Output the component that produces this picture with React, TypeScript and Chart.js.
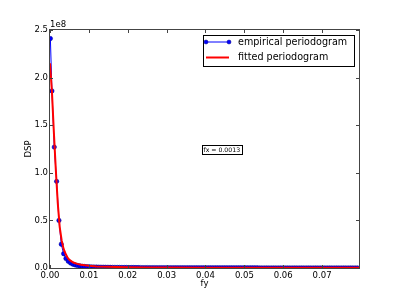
import React, { useEffect, useRef } from "react";
import { Chart, registerables } from "chart.js";

Chart.register(...registerables);

// Empirical periodogram: frequency (fy) and power spectral density (units of 1e8)
const EMP_FY = [
  0.0001, 0.0005, 0.0011, 0.0017, 0.0023, 0.0029, 0.0035, 0.0041, 0.0047, 0.0053,
  0.0059, 0.0065, 0.0071, 0.0077, 0.0083, 0.0089, 0.0095, 0.0101, 0.0107, 0.0113,
  0.0119, 0.0125, 0.0131, 0.0137, 0.0143, 0.0149, 0.0155, 0.0161, 0.0167, 0.0173,
  0.0179, 0.0185, 0.0191, 0.0197, 0.0203, 0.0209, 0.0215, 0.0221, 0.0227, 0.0233,
  0.0239, 0.0245, 0.0251, 0.0257, 0.0263, 0.0269, 0.0275, 0.0281, 0.0287, 0.0293,
  0.0299, 0.0305, 0.0311, 0.0317, 0.0323, 0.0329, 0.0335, 0.0341, 0.0347, 0.0353,
  0.0359, 0.0365, 0.0371, 0.0377, 0.0383, 0.0389, 0.0395, 0.0401, 0.0407, 0.0413,
  0.0419, 0.0425, 0.0431, 0.0437, 0.0443, 0.0449, 0.0455, 0.0461, 0.0467, 0.0473,
  0.0479, 0.0485, 0.0491, 0.0497, 0.0503, 0.0509, 0.0515, 0.0521, 0.0527, 0.0533,
  0.0539, 0.0545, 0.0551, 0.0557, 0.0563, 0.0569, 0.0575, 0.0581, 0.0587, 0.0593,
  0.0599, 0.0605, 0.0611, 0.0617, 0.0623, 0.0629, 0.0635, 0.0641, 0.0647, 0.0653,
  0.0659, 0.0665, 0.0671, 0.0677, 0.0683, 0.0689, 0.0695, 0.0701, 0.0707, 0.0713,
  0.0719, 0.0725, 0.0731, 0.0737, 0.0743, 0.0749, 0.0755, 0.0761, 0.0767, 0.0773,
  0.0779, 0.0785, 0.0791,
];

const EMPIRICAL = [
  2.41, 1.86, 1.27, 0.91, 0.5, 0.25, 0.15, 0.1, 0.07, 0.052,
  0.04, 0.032, 0.026, 0.022, 0.019, 0.016, 0.014, 0.013, 0.012, 0.011,
  0.01, 0.0095, 0.009, 0.0085, 0.008, 0.0076, 0.0072, 0.0069, 0.0066, 0.0063,
  0.006, 0.0058, 0.0056, 0.0054, 0.0052, 0.005, 0.0048, 0.0047, 0.0045, 0.0044,
  0.0043, 0.0042, 0.0041, 0.004, 0.0039, 0.0038, 0.0037, 0.0036, 0.0035, 0.0035,
  0.0034, 0.0033, 0.0033, 0.0032, 0.0031, 0.0031, 0.003, 0.003, 0.0029, 0.0029,
  0.0028, 0.0028, 0.0027, 0.0027, 0.0026, 0.0026, 0.0026, 0.0025, 0.0025, 0.0024,
  0.0024, 0.0024, 0.0023, 0.0023, 0.0023, 0.0022, 0.0022, 0.0022, 0.0021, 0.0021,
  0.0021, 0.0021, 0.002, 0.002, 0.002, 0.002, 0.0019, 0.0019, 0.0019, 0.0019,
  0.0018, 0.0018, 0.0018, 0.0018, 0.0018, 0.0017, 0.0017, 0.0017, 0.0017, 0.0017,
  0.0016, 0.0016, 0.0016, 0.0016, 0.0016, 0.0016, 0.0016, 0.0016, 0.0016, 0.0016,
  0.0016, 0.0016, 0.0015, 0.0015, 0.0015, 0.0015, 0.0015, 0.0015, 0.0015, 0.0015,
  0.0015, 0.0015, 0.0015, 0.0014, 0.0014, 0.0014, 0.0014, 0.0014, 0.0014, 0.0014,
  0.0014, 0.0014, 0.0014,
];

// Fitted periodogram (units of 1e8)
const FIT_FY = [
  0, 0.0005, 0.001, 0.0015, 0.002, 0.0025, 0.003, 0.0035, 0.004, 0.0045, 0.005,
  0.006, 0.007, 0.008, 0.009, 0.01, 0.012, 0.015, 0.02, 0.025, 0.03, 0.04, 0.05,
  0.06, 0.07, 0.0795,
];
const FITTED = [
  2.15, 1.85, 1.42, 1.03, 0.68, 0.43, 0.29, 0.2, 0.15, 0.11, 0.085,
  0.058, 0.043, 0.034, 0.028, 0.023, 0.017, 0.012, 0.008, 0.006, 0.005, 0.0035, 0.0028,
  0.0023, 0.002, 0.0018,
];

const X_MAX = 0.0795;
const Y_MAX = 2.5;
const X_STEP = 0.01;
const Y_STEP = 0.5;
const EXPONENT_LABEL = "1e8";
const ANNOTATION = { text: "fx = 0.0013", x: 0.0442, y: 1.24 };
const LEGEND_LABELS = ["empirical periodogram", "fitted periodogram"];
const AXIS_TITLES = { x: "fy", y: "DSP" };

const FONT = "'DejaVu Sans', 'Bitstream Vera Sans', sans-serif";
const BLUE = "#0000ff";
const RED = "#ff0000";

const decorPlugin = {
  id: "decor",
  afterDatasetsDraw(chart: any) {
    const { ctx, chartArea } = chart;
    const { left, right, top, bottom } = chartArea;
    const xs = chart.scales.x;
    const ys = chart.scales.y;
    ctx.save();
    // frame
    ctx.strokeStyle = "#444";
    ctx.lineWidth = 1;
    ctx.strokeRect(Math.round(left) - 0.5, Math.round(top) - 0.5, Math.round(right - left) + 1, Math.round(bottom - top) + 1);
    // inward ticks
    const TL = 3;
    ctx.beginPath();
    xs.ticks.forEach((t: any) => {
      const px = Math.round(xs.getPixelForValue(t.value)) + 0.5;
      ctx.moveTo(px, bottom);
      ctx.lineTo(px, bottom - TL);
      ctx.moveTo(px, top);
      ctx.lineTo(px, top + TL);
    });
    ys.ticks.forEach((t: any) => {
      const py = Math.round(ys.getPixelForValue(t.value)) + 0.5;
      ctx.moveTo(left, py);
      ctx.lineTo(left + TL, py);
      ctx.moveTo(right, py);
      ctx.lineTo(right - TL, py);
    });
    ctx.stroke();

    // exponent label
    ctx.fillStyle = "#000";
    ctx.font = `8.5px ${FONT}`;
    ctx.textAlign = "left";
    ctx.textBaseline = "bottom";
    ctx.fillText(EXPONENT_LABEL, left, top - 1);

    // annotation box
    const ax = xs.getPixelForValue(ANNOTATION.x);
    const ay = ys.getPixelForValue(ANNOTATION.y);
    ctx.font = `6.2px ${FONT}`;
    const tw = ctx.measureText(ANNOTATION.text).width;
    ctx.fillStyle = "#fff";
    ctx.fillRect(ax - tw / 2 - 1.5, ay - 4.5, tw + 3, 9);
    ctx.strokeStyle = "#000";
    ctx.strokeRect(Math.round(ax - tw / 2 - 1.5) + 0.5, Math.round(ay - 4.5) + 0.5, Math.round(tw + 3), 9);
    ctx.fillStyle = "#000";
    ctx.textAlign = "center";
    ctx.textBaseline = "middle";
    ctx.fillText(ANNOTATION.text, ax, ay + 0.5);

    // legend
    const lx = 203, ly = 35, lw = 151, lh = 31;
    ctx.fillStyle = "#fff";
    ctx.fillRect(lx, ly, lw, lh);
    ctx.strokeStyle = "#000";
    ctx.strokeRect(lx + 0.5, ly + 0.5, lw, lh);
    const rows = [ly + 7, ly + 22.5];
    // empirical
    ctx.strokeStyle = BLUE;
    ctx.lineWidth = 1;
    ctx.beginPath();
    ctx.moveTo(206, rows[0]);
    ctx.lineTo(229, rows[0]);
    ctx.stroke();
    ctx.fillStyle = BLUE;
    ctx.strokeStyle = "#000080";
    ctx.lineWidth = 0.5;
    [206, 229].forEach((x) => {
      ctx.beginPath();
      ctx.arc(x, rows[0], 2, 0, Math.PI * 2);
      ctx.fill();
      ctx.stroke();
    });
    // fitted
    ctx.strokeStyle = RED;
    ctx.lineWidth = 2;
    ctx.beginPath();
    ctx.moveTo(206, rows[1]);
    ctx.lineTo(229, rows[1]);
    ctx.stroke();
    ctx.fillStyle = "#000";
    ctx.font = `9.6px ${FONT}`;
    ctx.textAlign = "left";
    ctx.textBaseline = "middle";
    ctx.fillText(LEGEND_LABELS[0], 238, rows[0]);
    ctx.fillText(LEGEND_LABELS[1], 238, rows[1]);
    ctx.restore();
  },
};

export default function App() {
  const ref = useRef<HTMLCanvasElement | null>(null);
  useEffect(() => {
    document.body.style.margin = "0";
    const canvas = ref.current;
    if (!canvas) return;
    const chart = new Chart(canvas, {
      type: "line",
      data: {
        datasets: [
          {
            label: LEGEND_LABELS[1],
            data: FIT_FY.map((x, i) => ({ x, y: FITTED[i] })),
            borderColor: RED,
            borderWidth: 2,
            pointRadius: 0,
            tension: 0,
            order: 0,
          },
          {
            label: LEGEND_LABELS[0],
            data: EMP_FY.map((x, i) => ({ x, y: EMPIRICAL[i] })),
            borderColor: BLUE,
            borderWidth: 1,
            pointRadius: 2.2,
            pointBackgroundColor: BLUE,
            pointBorderColor: "#000080",
            pointBorderWidth: 0.5,
            tension: 0,
            order: 1,
          },
        ],
      },
      options: {
        animation: false,
        responsive: false,
        layout: { padding: { left: 0, right: 40, top: 30, bottom: 0 } },
        plugins: {
          legend: { display: false },
          tooltip: { enabled: false },
        },
        scales: {
          x: {
            type: "linear",
            min: 0,
            max: X_MAX,
            bounds: "data",
            grid: { display: false, drawTicks: false },
            border: { display: false },
            ticks: {
              stepSize: X_STEP,
              includeBounds: false,
              autoSkip: false,
              maxRotation: 0,
              padding: 3,
              color: "#000",
              font: { family: FONT, size: 8.5 },
              callback: (v: any) => Number(v).toFixed(2),
            },
            title: {
              display: true,
              text: AXIS_TITLES.x,
              color: "#000",
              font: { family: FONT, size: 8.5 },
              padding: { top: 0, bottom: 10 },
            },
            afterFit: (s: any) => {
              s.height = 31;
            },
          },
          y: {
            type: "linear",
            min: 0,
            max: Y_MAX,
            grid: { display: false, drawTicks: false },
            border: { display: false },
            ticks: {
              stepSize: Y_STEP,
              padding: 2,
              color: "#000",
              font: { family: FONT, size: 8.5 },
              callback: (v: any) => Number(v).toFixed(1),
            },
            title: {
              display: true,
              text: AXIS_TITLES.y,
              color: "#000",
              font: { family: FONT, size: 8.5 },
              padding: { top: 24, bottom: 0 },
            },
            afterFit: (s: any) => {
              s.width = 50;
            },
          },
        },
      },
      plugins: [decorPlugin],
    });
    return () => chart.destroy();
  }, []);
  return (
    <div style={{ position: "absolute", left: 0, top: 0, width: 399, height: 299 }}>
      <canvas ref={ref} width={399} height={299} />
    </div>
  );
}
